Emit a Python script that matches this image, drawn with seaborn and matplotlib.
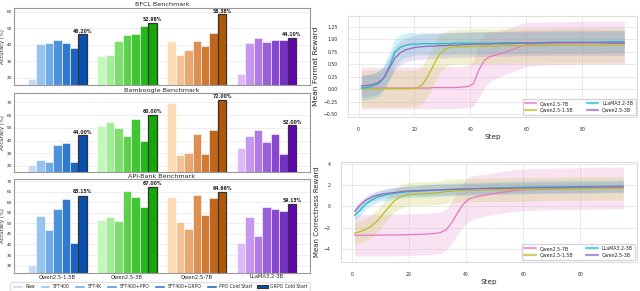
import numpy as np
import pandas as pd
import matplotlib
matplotlib.use('Agg')
import matplotlib.pyplot as plt
import seaborn as sns
from matplotlib.patches import Patch

sns.set_theme(style='whitegrid')
plt.rcParams['font.family'] = ['DejaVu Sans']

# ---- bar data (accuracy %) ----
models = ['Qwen2.5-1.5B', 'Qwen2.5-3B', 'Qwen2.5-7B', 'LLaMA3.2-3B']
methods = ['Raw', 'SFT400', 'SFT4K', 'SFT400+PPO', 'SFT400+GRPO',
           'PPO Cold Start', 'GRPO Cold Start']

bfcl = {'Qwen2.5-1.5B': [19.2, 40.2, 41.0, 42.8, 41.2, 38.2, 46.20],
        'Qwen2.5-3B':   [33.0, 34.0, 42.0, 45.8, 46.6, 51.2, 52.98],
        'Qwen2.5-7B':   [42.0, 34.0, 36.6, 42.0, 39.2, 46.8, 58.38],
        'LLaMA3.2-3B':  [22.0, 41.2, 44.2, 41.6, 42.6, 43.0, 44.10]}
bamboogle = {'Qwen2.5-1.5B': [20.5, 24.7, 23.2, 36.6, 38.4, 23.2, 44.00],
             'Qwen2.5-3B':   [51.6, 54.2, 49.5, 43.2, 56.6, 39.7, 60.00],
             'Qwen2.5-7B':   [69.7, 28.4, 30.0, 45.5, 29.5, 47.9, 72.00],
             'LLaMA3.2-3B':  [34.2, 43.7, 48.4, 39.2, 45.5, 29.5, 52.00]}
apibank = {'Qwen2.5-1.5B': [30.5, 53.6, 47.0, 57.0, 61.3, 40.5, 63.15],
           'Qwen2.5-3B':   [51.6, 52.9, 51.0, 65.2, 62.4, 57.5, 67.00],
           'Qwen2.5-7B':   [62.4, 50.7, 47.2, 63.2, 54.1, 61.8, 64.66],
           'LLaMA3.2-3B':  [40.5, 52.9, 44.0, 57.8, 56.9, 55.8, 59.13]}

blues = ['#c6dcf6', '#97c3f0', '#70abe6', '#4d92da', '#3079ce', '#1a65c2', '#0a50b0']
greens = ['#c4f7ba', '#a2ed95', '#7edf6e', '#5cd24c', '#40c533', '#26b81b', '#16a806']
oranges = ['#ffdbb7', '#f4c293', '#e9a771', '#dc8f50', '#cf7a35', '#c1661d', '#b05805']
purples = ['#dcb9f7', '#c597ef', '#b07be6', '#9a60db', '#8748d0', '#7431c4', '#6003b4']
group_colors = [blues, greens, oranges, purples]

# ---- reward curves ----
steps = [1, 3, 5, 7, 9, 11, 13, 15, 17, 19, 21, 23, 25, 27, 29, 31, 33, 35,
         37, 39, 41, 43, 45, 47, 49, 52, 55, 58, 61, 65, 70, 75, 80, 85, 90, 95]
series = ['Qwen2.5-7B', 'Qwen2.5-1.5B', 'LLaMA3.2-3B', 'Qwen2.5-3B']
line_colors = ['#e377c2', '#bcbd22', '#17becf', '#9467bd']

fmt_mean = {
    'Qwen2.5-7B': [0.02, 0.02, 0.02, 0.02, 0.02, 0.02, 0.02, 0.02, 0.02, 0.02, 0.02, 0.02,
                   0.02, 0.03, 0.03, 0.03, 0.03, 0.03, 0.04, 0.05, 0.10, 0.38, 0.58, 0.65,
                   0.68, 0.73, 0.79, 0.86, 0.90, 0.91, 0.92, 0.92, 0.93, 0.93, 0.93, 0.93],
    'Qwen2.5-1.5B': [0.01, 0.01, 0.01, 0.01, 0.01, 0.01, 0.01, 0.01, 0.01, 0.01, 0.02, 0.10,
                     0.28, 0.50, 0.70, 0.80, 0.84, 0.85, 0.85, 0.85, 0.86, 0.86, 0.86, 0.86,
                     0.86, 0.87, 0.87, 0.87, 0.87, 0.87, 0.88, 0.88, 0.88, 0.88, 0.88, 0.88],
    'LLaMA3.2-3B': [0.02, 0.03, 0.06, 0.10, 0.22, 0.45, 0.74, 0.84, 0.88, 0.90, 0.90, 0.91,
                    0.91, 0.91, 0.91, 0.91, 0.91, 0.92, 0.92, 0.92, 0.92, 0.92, 0.92, 0.92,
                    0.92, 0.93, 0.93, 0.93, 0.93, 0.93, 0.94, 0.94, 0.94, 0.94, 0.95, 0.95],
    'Qwen2.5-3B': [0.06, 0.07, 0.09, 0.13, 0.22, 0.42, 0.62, 0.73, 0.79, 0.82, 0.84, 0.85,
                   0.86, 0.86, 0.87, 0.87, 0.88, 0.88, 0.89, 0.89, 0.90, 0.90, 0.90, 0.90,
                   0.91, 0.91, 0.91, 0.92, 0.92, 0.92, 0.93, 0.93, 0.93, 0.93, 0.92, 0.92]}
fmt_std = {
    'Qwen2.5-7B': [0.42] * 20 + [0.45, 0.55, 0.55, 0.50, 0.47, 0.45, 0.45, 0.45, 0.44,
                                 0.43, 0.43, 0.43, 0.43, 0.43, 0.43, 0.43],
    'Qwen2.5-1.5B': [0.37] * 11 + [0.38, 0.40, 0.40, 0.38, 0.36] + [0.35] * 20,
    'LLaMA3.2-3B': [0.25] * 5 + [0.27, 0.27, 0.25, 0.24, 0.24] + [0.22] * 26,
    'Qwen2.5-3B': [0.22] * 6 + [0.24] * 4 + [0.25] * 26}

cor_mean = {
    'Qwen2.5-7B': [-2.70, -2.70, -2.69, -2.69, -2.68, -2.68, -2.67, -2.67, -2.66, -2.65,
                   -2.63, -2.62, -2.60, -2.57, -2.53, -2.45, -2.20, -1.50, -0.60, 0.20,
                   0.70, 0.88, 0.98, 1.07, 1.17, 1.30, 1.42, 1.52, 1.57, 1.60, 1.63, 1.66,
                   1.68, 1.70, 1.72, 1.73],
    'Qwen2.5-1.5B': [-2.50, -2.35, -2.15, -1.80, -1.35, -0.70, -0.05, 0.55, 0.90, 1.08,
                     1.15, 1.18, 1.20, 1.22, 1.25, 1.30, 1.40, 1.45, 1.48, 1.50, 1.52,
                     1.53, 1.54, 1.55, 1.56, 1.57, 1.58, 1.59, 1.60, 1.62, 1.64, 1.66,
                     1.68, 1.69, 1.70, 1.70],
    'LLaMA3.2-3B': [-0.85, -0.35, 0.25, 0.62, 0.88, 1.02, 1.14, 1.24, 1.30, 1.36, 1.40,
                    1.43, 1.46, 1.48, 1.52, 1.55, 1.57, 1.59, 1.61, 1.63, 1.65, 1.67,
                    1.69, 1.70, 1.72, 1.74, 1.76, 1.78, 1.80, 1.82, 1.83, 1.85, 1.86,
                    1.87, 1.88, 1.90],
    'Qwen2.5-3B': [-0.47, 0.15, 0.60, 0.88, 1.05, 1.18, 1.25, 1.30, 1.38, 1.43, 1.46,
                   1.48, 1.50, 1.52, 1.54, 1.56, 1.58, 1.60, 1.62, 1.63, 1.65, 1.66,
                   1.67, 1.68, 1.69, 1.70, 1.71, 1.73, 1.74, 1.75, 1.76, 1.78, 1.80,
                   1.82, 1.84, 1.85]}
cor_std = {
    'Qwen2.5-7B': [1.95] * 18 + [2.05, 2.10, 2.10, 2.05, 2.00] + [1.95] * 13,
    'Qwen2.5-1.5B': [1.05] * 8 + [1.10] * 28,
    'LLaMA3.2-3B': [0.50] * 6 + [0.55] * 6 + [0.60] * 24,
    'Qwen2.5-3B': [0.40] * 6 + [0.45] * 6 + [0.50] * 24}

fig = plt.figure(figsize=(6.4, 2.91), dpi=100)

# ---- left: grouped bars ----
bar_panels = [('BFCL Benchmark', bfcl, (15.5, 62.5), [20, 30, 40, 50, 60]),
              ('Bamboogle Benchmark', bamboogle, (15.5, 77), [20, 30, 40, 50, 60, 70]),
              ('API-Bank Benchmark', apibank, (26.5, 71), [30, 35, 40, 45, 50, 55, 60, 65, 70])]
positions = [[0.022, 0.708, 0.462, 0.266],
             [0.022, 0.410, 0.462, 0.269],
             [0.022, 0.062, 0.462, 0.323]]

for k, (title, data, ylim, yt) in enumerate(bar_panels):
    ax = fig.add_axes(positions[k])
    rows = []
    for m in models:
        for meth, v in zip(methods, data[m]):
            rows.append({'model': m, 'method': meth, 'acc': v})
    df = pd.DataFrame(rows)
    sns.barplot(data=df, x='model', y='acc', hue='method', order=models,
                hue_order=methods, palette=blues, width=0.85, saturation=1,
                errorbar=None, legend=False, edgecolor='white', linewidth=0.4, ax=ax)
    for i, cont in enumerate(ax.containers):
        for j, bar in enumerate(cont):
            bar.set_facecolor(group_colors[j][i])
            if i == 6:
                bar.set_edgecolor('#333333')
                bar.set_linewidth(0.9)
                ax.text(bar.get_x() + bar.get_width() / 2, bar.get_height() + 0.5,
                        f'{bar.get_height():.2f}%', ha='center', va='bottom',
                        fontsize=3.3, fontweight='bold')
    ax.set_xlim(-0.62, 3.62)
    ax.set_ylim(*ylim)
    ax.set_yticks(yt)
    ax.tick_params(axis='y', labelsize=3.0, length=1.0, pad=0.6)
    ax.grid(False)
    ax.yaxis.grid(True, color='#e8e8e8', lw=0.5)
    ax.set_axisbelow(True)
    for s in ax.spines.values():
        s.set_color('#999999')
        s.set_linewidth(0.8)
    ax.set_ylabel('Accuracy (%)', fontsize=3.8)
    ax.yaxis.set_label_coords(-0.031, 0.5)
    ax.set_xlabel('')
    ax.set_title(title, fontsize=4.6, pad=0.8)
    if k < 2:
        ax.set_xticks([])
    else:
        ax.tick_params(axis='x', labelsize=3.8, length=0, pad=1.0)

handles = []
for i, meth in enumerate(methods):
    if i == 6:
        handles.append(Patch(facecolor=blues[i], edgecolor='#333333', lw=0.8, label=meth))
    else:
        handles.append(Patch(facecolor=blues[i], edgecolor='white', label=meth))
fig.legend(handles=handles, loc='lower center', bbox_to_anchor=(0.25, -0.008), ncol=7,
           fontsize=3.3, frameon=True, edgecolor='#dddddd', handlelength=2.3,
           handleheight=0.8, handletextpad=0.6, columnspacing=1.0, borderpad=0.4)

# ---- right: reward curves ----
line_panels = [(fmt_mean, fmt_std, 'Mean Format Reward', 5.4, (-0.56, 1.47),
                [0.544, 0.598, 0.452, 0.348], [-0.5, -0.25, 0, 0.25, 0.5, 0.75, 1.0, 1.25]),
               (cor_mean, cor_std, 'Mean Correctness Reward', 5.0, (-5.2, 4.2),
                [0.533, 0.0997, 0.462, 0.345], [-4, -2, 0, 2, 4])]

for mean_d, std_d, ylab, yfs, ylim, pos, yt in line_panels:
    ax = fig.add_axes(pos)
    rows = []
    for s in series:
        for st, v in zip(steps, mean_d[s]):
            rows.append({'Step': st, 'value': v, 'model': s})
    df = pd.DataFrame(rows)
    for s, c in zip(series, line_colors):
        mu = np.array(mean_d[s])
        sd = np.array(std_d[s])
        ax.fill_between(steps, mu - sd, mu + sd, color=c, alpha=0.2, lw=0)
    sns.lineplot(data=df, x='Step', y='value', hue='model', hue_order=series,
                 palette=line_colors, lw=0.9, ax=ax)
    ax.set_ylim(*ylim)
    ax.set_yticks(yt)
    ax.set_xticks([0, 20, 40, 60, 80])
    ax.tick_params(labelsize=3.3, pad=1.5)
    ax.set_ylabel(ylab, fontsize=yfs, labelpad=3)
    ax.set_xlabel('Step', fontsize=5.2, labelpad=1)
    ax.grid(True, color='#e6e6e6', lw=0.6)
    for sp in ax.spines.values():
        sp.set_color('#dddddd')
        sp.set_linewidth(0.8)
    leg = ax.legend(ncol=2, loc='lower right', fontsize=3.4, frameon=True,
                    handlelength=2.4, columnspacing=2.8, borderpad=0.5,
                    labelspacing=0.35, borderaxespad=0.4)
    for h in leg.get_lines():
        h.set_linewidth(1.6)
        h.set_alpha(0.7)

fig.savefig('out.png', dpi=100)
